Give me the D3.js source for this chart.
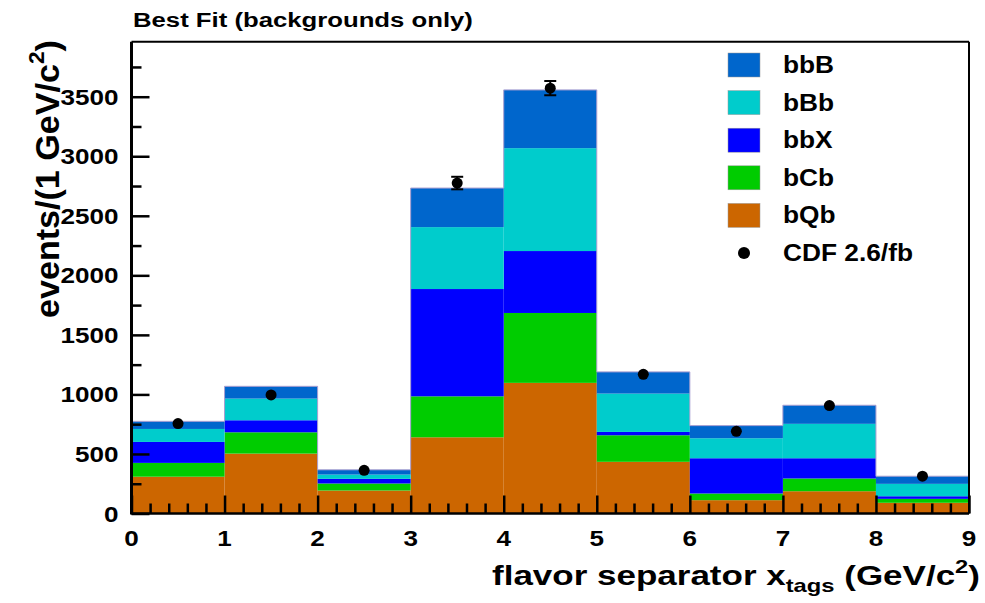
<!DOCTYPE html>
<html><head><meta charset="utf-8">
<script src="https://cdn.jsdelivr.net/npm/d3@7"></script>
<style>body{margin:0;background:#fff;}svg{display:block;font-family:"Liberation Sans",Arial,sans-serif;}</style>
</head><body>
<svg id="c" width="985" height="603"></svg>
<script>
const binEdges = [0,1,2,3,4,5,6,7,8,9];
const seriesNames = ["bQb","bCb","bbX","bBb","bbB"];
const bQb = [309, 503, 193, 640, 1097, 434, 112, 187, 90];
const bCb = [116, 179, 59, 344, 587, 223, 56, 107, 33];
const bbX = [176, 101, 39, 901, 520, 28, 296, 170, 22];
const bBb = [109, 182, 36, 520, 864, 322, 168, 289, 104];
const bbB = [64, 103, 40, 328, 489, 182, 106, 156, 64];
const dataCDF = [755, 996, 363, 2775, 3572, 1169, 690, 906, 313];
const colors = {bbB:"#0066cc", bBb:"#00cccc", bbX:"#0000ff", bCb:"#00cc00", bQb:"#cc6600"};
const legendOrder = ["bbB","bBb","bbX","bCb","bQb"];
const yTicks = [0,500,1000,1500,2000,2500,3000,3500];
const xTicks = [0,1,2,3,4,5,6,7,8,9];

const svg = d3.select("#c");
const L=131.5, R=969, T=41.7, B=513.5;
const x = d3.scaleLinear().domain([0,9]).range([L,R]);
const y = d3.scaleLinear().domain([0,3962]).range([B,T]);

const rows = binEdges.slice(0,-1).map((e,i)=>({bin:e, bQb:bQb[i], bCb:bCb[i], bbX:bbX[i], bBb:bBb[i], bbB:bbB[i]}));
const stack = d3.stack().keys(seriesNames)(rows);

const g = svg.append("g");
stack.forEach(s=>{
  g.selectAll(null).data(s).enter().append("rect")
    .attr("x", d=>x(d.data.bin)).attr("width", d=>x(d.data.bin+1)-x(d.data.bin))
    .attr("y", d=>y(d[1])).attr("height", d=>y(d[0])-y(d[1]))
    .attr("fill", colors[s.key]);
});
const totals = rows.map(r=>seriesNames.reduce((a,k)=>a+r[k],0));
let p = d3.path();
p.moveTo(x(0), y(0));
totals.forEach((t,i)=>{ p.lineTo(x(i), y(t)); p.lineTo(x(i+1), y(t)); });
p.lineTo(x(9), y(0));
g.append("path").attr("d", p.toString()).attr("fill","none").attr("stroke","#a89ed0").attr("stroke-width",1);

// data points
const R0 = 5.5;
const pts = svg.append("g");
dataCDF.forEach((v,i)=>{
  const cx = x(i+0.5), e = Math.sqrt(v);
  const epx = y(v) - y(v+e);
  if (epx > R0) {
    pts.append("line").attr("x1",cx).attr("x2",cx).attr("y1",y(v-e)).attr("y2",y(v+e)).attr("stroke","#000").attr("stroke-width",2);
    [v-e,v+e].forEach(w=>pts.append("line").attr("x1",cx-6).attr("x2",cx+6).attr("y1",y(w)).attr("y2",y(w)).attr("stroke","#000").attr("stroke-width",2));
  }
  pts.append("circle").attr("cx",cx).attr("cy",y(v)).attr("r",R0).attr("fill","#000");
});

// axes
const xMinor = d3.range(0,9.001,0.2).map(v=>+v.toFixed(1)).filter(v=>Math.abs(v-Math.round(v))>1e-6);
const yMinor = d3.range(250,3962,500);
const ax = svg.append("g");
function styleAxis(sel){ sel.select(".domain").remove(); sel.selectAll("line").attr("stroke","#000").attr("stroke-width",2.5); }
ax.append("g").attr("transform",`translate(0,${B})`).call(d3.axisBottom(x).tickValues(xTicks).tickSize(-18).tickFormat("")).call(styleAxis);
ax.append("g").attr("transform",`translate(0,${B})`).call(d3.axisBottom(x).tickValues(xMinor).tickSize(-10).tickFormat("")).call(styleAxis);
ax.append("g").attr("transform",`translate(${L},0)`).call(d3.axisLeft(y).tickValues(yTicks).tickSize(-18).tickFormat("")).call(styleAxis);
ax.append("g").attr("transform",`translate(${L},0)`).call(d3.axisLeft(y).tickValues(yMinor).tickSize(-10).tickFormat("")).call(styleAxis);
svg.append("line").attr("x1",L).attr("x2",L).attr("y1",T).attr("y2",B+1).attr("stroke","#000").attr("stroke-width",3);
svg.append("line").attr("x1",L).attr("x2",R).attr("y1",B).attr("y2",B).attr("stroke","#000").attr("stroke-width",2.5);
svg.append("line").attr("x1",L).attr("x2",R).attr("y1",T).attr("y2",T).attr("stroke","#000").attr("stroke-width",2);
svg.append("line").attr("x1",R).attr("x2",R).attr("y1",T).attr("y2",B).attr("stroke","#000").attr("stroke-width",2);

function label(px, py, size, anchor, rot){
  const gg = svg.append("g");
  const t = gg.append("text").attr("x",0).attr("y",0).attr("font-size",size).attr("font-weight","bold").attr("text-anchor",anchor);
  return {g:gg, t:t, fit(sx){ gg.attr("transform",`translate(${px},${py}) rotate(${rot||0}) scale(${sx},1)`); return this; },
          width(){ return t.node().getBBox().width; }};
}

// tick labels
const tickSize = 22;
const probe = label(0,0,tickSize,"end"); probe.t.text("3500"); const tickSx = 58/probe.width(); probe.g.remove();
xTicks.forEach(v=>{ const l = label(x(v),545.5,tickSize,"middle"); l.t.text(v); l.fit(tickSx); });
yTicks.forEach(v=>{ const l = label(118.5,y(v)+8,tickSize,"end"); l.t.text(v); l.fit(tickSx); });

// title
{ const l = label(133,26.5,21,"start"); l.t.text("Best Fit (backgrounds only)"); l.fit(340/l.width()); }

// x title
{ const l = label(980,585,28,"end");
  const xt = l.t;
  xt.append("tspan").text("flavor separator x");
  xt.append("tspan").attr("font-size",19).attr("dy",7).text("tags");
  xt.append("tspan").attr("dy",-7).text(" (GeV/c");
  xt.append("tspan").attr("font-size",19).attr("dy",-12).text("2");
  xt.append("tspan").attr("dy",12).text(")");
  l.fit(488/l.width()); }

// y title
{ const l = label(59,318,33,"start",-90);
  const yt = l.t;
  yt.append("tspan").text("events/(1 GeV/c");
  yt.append("tspan").attr("font-size",22).attr("dy",-15).text("2");
  yt.append("tspan").attr("dy",15).text(")");
  l.fit(278/l.width()); }

// legend
const ly0 = 65, ldy = 37.6, legSize = 23;
const probe2 = label(0,0,legSize,"start"); probe2.t.text("CDF 2.6/fb"); const legSx = 130/probe2.width(); probe2.g.remove();
const lg = svg.append("g");
legendOrder.forEach((k,i)=>{
  const cy = ly0 + i*ldy;
  lg.append("rect").attr("x",728).attr("y",cy-12).attr("width",32).attr("height",24).attr("fill",colors[k]).attr("stroke","#999").attr("stroke-width",0.5);
  const l = label(783,cy+8,legSize,"start"); l.t.text(k); l.fit(legSx);
});
{
  const cy = ly0 + 5*ldy;
  lg.append("circle").attr("cx",744).attr("cy",cy).attr("r",6).attr("fill","#000");
  const l = label(783,cy+8,legSize,"start"); l.t.text("CDF 2.6/fb"); l.fit(legSx);
}
</script>
</body></html>
